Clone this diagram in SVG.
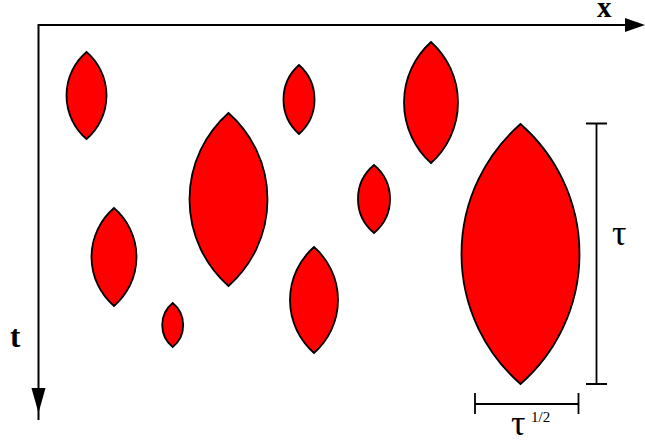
<svg xmlns="http://www.w3.org/2000/svg" width="645" height="443" viewBox="0 0 645 443">
<style>
.lens{fill:#ff0000;stroke:#000;stroke-width:1.8}
.ax{stroke:#000;stroke-width:2;fill:none}
.dim{stroke:#000;stroke-width:1.8;fill:none}
.lbl{font-family:"Liberation Serif","Times New Roman",serif;fill:#000}
</style>
<rect width="645" height="443" fill="#fff"/>
<g id="axes">
<polyline class="ax" points="38.5,420 38.5,25 630,25"/>
<polygon points="625,18 645,25 625,32" fill="#000"/>
<polygon points="31.5,388 45.5,388 38.5,413" fill="#000"/>
<text class="lbl" x="597" y="17" font-size="29" font-weight="bold">x</text>
<text class="lbl" x="10" y="346.5" font-size="31" font-weight="bold">t</text>
</g>
<g id="lens1"><path class="lens" d="M86.5,52 A57.3,57.3 0 0 1 86.5,139 A57.3,57.3 0 0 1 86.5,52 Z"/></g>
<g id="lens2"><path class="lens" d="M299,65 A46.1,46.1 0 0 1 299,134 A46.1,46.1 0 0 1 299,65 Z"/></g>
<g id="lens3"><path class="lens" d="M228.5,113 A115.4,115.4 0 0 1 228.5,286 A115.4,115.4 0 0 1 228.5,113 Z"/></g>
<g id="lens4"><path class="lens" d="M114,208 A64.6,64.6 0 0 1 114,306 A64.6,64.6 0 0 1 114,208 Z"/></g>
<g id="lens5"><path class="lens" d="M172.7,303 A28.3,28.3 0 0 1 172.7,347 A28.3,28.3 0 0 1 172.7,303 Z"/></g>
<g id="lens6"><path class="lens" d="M314,247 A70.5,70.5 0 0 1 314,353 A70.5,70.5 0 0 1 314,247 Z"/></g>
<g id="lens7"><path class="lens" d="M431,42 A81.3,81.3 0 0 1 431,163 A81.3,81.3 0 0 1 431,42 Z"/></g>
<g id="lens8"><path class="lens" d="M374,165 A44.1,44.1 0 0 1 374,233 A44.1,44.1 0 0 1 374,165 Z"/></g>
<g id="lens9"><path class="lens" d="M520.5,124 A172.7,172.7 0 0 1 520.5,384 A172.7,172.7 0 0 1 520.5,124 Z"/></g>
<g id="dimensions">
<path class="dim" d="M596.5,123.5 V384 M586,123.5 H607 M586,384 H607"/>
<path class="dim" d="M475,404 H578.5 M475,393 V414 M578.5,393 V414"/>
<text class="lbl" x="612" y="245" font-size="36">τ</text>
<text class="lbl" x="511" y="435" font-size="36">τ</text>
<text class="lbl" x="531" y="422" font-size="15">1/2</text>
</g>
</svg>
